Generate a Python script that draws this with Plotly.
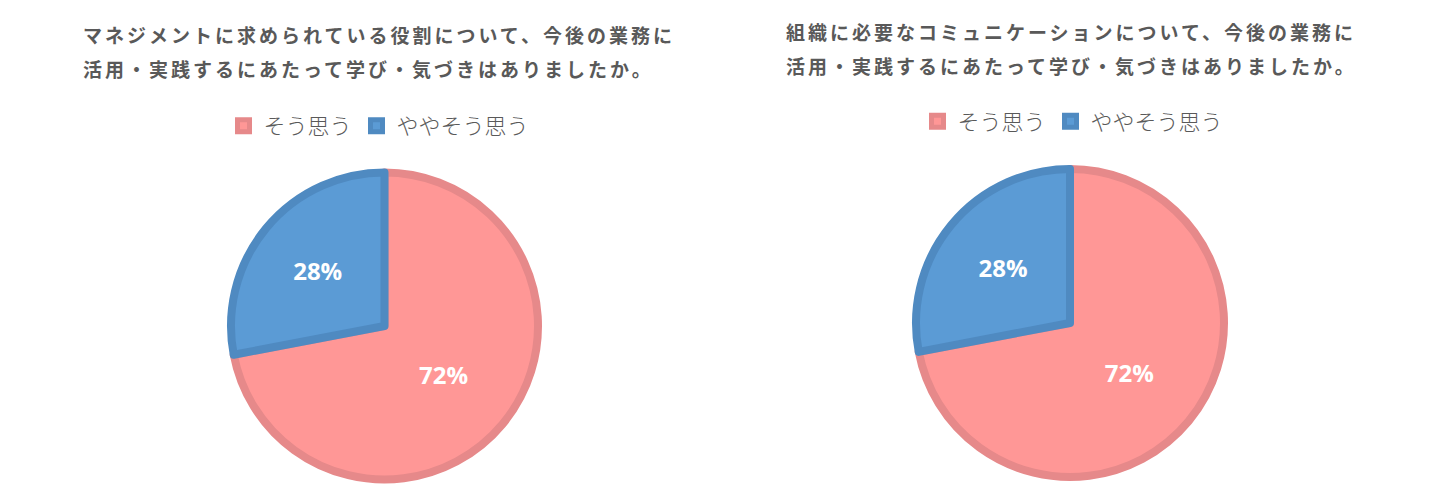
import plotly.graph_objects as go

# ---- data ----
labels = ["そう思う", "ややそう思う"]
values_left = [72, 28]
values_right = [72, 28]
title_left = ["マネジメントに求められている役割について、今後の業務に",
              "活用・実践するにあたって学び・気づきはありましたか。"]
title_right = ["組織に必要なコミュニケーションについて、今後の業務に",
               "活用・実践するにあたって学び・気づきはありましたか。"]

fill_colors = ["#FF9796", "#5B9BD5"]
line_colors = ["#E6898A", "#4F8AC1"]
W, H = 1449, 489
gray = "#595959"

fig = go.Figure()

def add_pie(values, cx, cy, r, legend_name, group):
    fig.add_trace(go.Pie(
        labels=labels, values=values, sort=False, direction="clockwise",
        rotation=0,
        marker=dict(colors=fill_colors, line=dict(color=line_colors, width=8)),
        textinfo="percent", textposition="inside",
        insidetextorientation="horizontal",
        textfont=dict(family="Open Sans", size=24, color="white", weight=700),
        domain=dict(x=[(cx - r) / W, (cx + r) / W],
                    y=[(H - cy - r) / H, (H - cy + r) / H]),
        legend=legend_name, legendgroup=group, hoverinfo="label+percent",
    ))

add_pie(values_left, 384.5, 326, 153.5, "legend", "left")
add_pie(values_right, 1070, 323, 154, "legend2", "right")

def add_title(lines, x, ys):
    for line, y in zip(lines, ys):
        fig.add_annotation(
            text='<span style="letter-spacing:3px">' + line + '</span>',
            xref="paper", yref="paper", x=x / W, y=1 - y / H,
            xanchor="left", yanchor="middle", showarrow=False,
            font=dict(family="Noto Sans CJK JP", size=19, color=gray, weight=700),
        )

add_title(title_left, 81, [34, 69])
add_title(title_right, 784, [31, 65])

legend_common = dict(orientation="h", xanchor="center", yanchor="middle",
                     traceorder="normal",
                     font=dict(family="Noto Sans CJK JP", size=22, color=gray, weight=300),
                     bgcolor="rgba(0,0,0,0)", itemclick=False)

fig.update_layout(
    width=W, height=H,
    margin=dict(l=0, r=0, t=0, b=0),
    paper_bgcolor="white", plot_bgcolor="white",
    showlegend=True,
    legend=dict(x=379 / W, y=1 - 126 / H, **legend_common),
    legend2=dict(x=1073 / W, y=1 - 121.5 / H, **legend_common),
)

fig.write_html("out.html", config={"displayModeBar": False},
               post_script="document.body.style.margin='0';")
